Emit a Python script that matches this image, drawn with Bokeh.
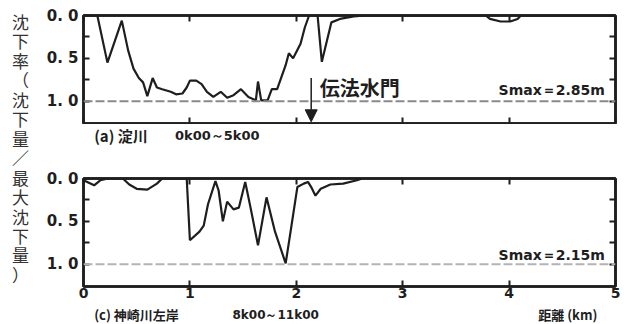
from bokeh.plotting import figure
from bokeh.layouts import row, column
from bokeh.models import Range1d, FixedTicker, LinearAxis, Span, Label, Arrow, NormalHead
from bokeh.core.properties import value
from bokeh.embed import file_html
from bokeh.resources import INLINE

# (a) 淀川 0k00～5k00 : distance (km) vs settlement ratio (settlement / max settlement)
yodo_km = [0.00, 0.13, 0.225, 0.36, 0.42, 0.47, 0.52, 0.56, 0.60, 0.65, 0.69, 0.74, 0.82,
           0.87, 0.93, 0.97, 1.00, 1.06, 1.11, 1.16, 1.22, 1.29, 1.35, 1.41, 1.48, 1.55,
           1.62, 1.64, 1.67, 1.73, 1.77, 1.82, 1.86, 1.90, 1.93, 1.97, 2.04, 2.08, 2.12,
           2.20, 2.24, 2.33, 2.41, 2.54, 2.65, 3.78, 3.82, 3.92, 4.01, 4.08, 4.11, 5.00]
yodo_ratio = [0.00, 0.00, 0.55, 0.06, 0.41, 0.62, 0.73, 0.78, 0.94, 0.73, 0.84, 0.86, 0.89,
              0.92, 0.91, 0.84, 0.76, 0.76, 0.80, 0.89, 0.95, 0.89, 0.96, 0.93, 0.86, 0.95,
              0.99, 0.77, 0.99, 0.99, 0.86, 0.86, 0.72, 0.58, 0.44, 0.50, 0.33, 0.14, 0.00,
              0.00, 0.54, 0.08, 0.04, 0.01, 0.00, 0.00, 0.04, 0.07, 0.07, 0.04, 0.00, 0.00]

# (c) 神崎川左岸 8k00～11k00
kanzaki_km = [0.00, 0.05, 0.10, 0.16, 0.23, 0.37, 0.43, 0.50, 0.60, 0.69, 0.74, 0.97, 1.00,
              1.09, 1.13, 1.17, 1.24, 1.27, 1.31, 1.35, 1.41, 1.46, 1.52, 1.57, 1.64, 1.72,
              1.80, 1.90, 1.94, 2.01, 2.07, 2.11, 2.14, 2.18, 2.23, 2.32, 2.44, 2.57, 2.62]
kanzaki_ratio = [0.02, 0.05, 0.08, 0.02, 0.00, 0.00, 0.07, 0.12, 0.13, 0.06, 0.00, 0.00, 0.72,
                 0.62, 0.55, 0.30, 0.03, 0.14, 0.50, 0.27, 0.36, 0.34, 0.04, 0.34, 0.78, 0.22,
                 0.62, 0.99, 0.67, 0.10, 0.06, 0.04, 0.10, 0.20, 0.12, 0.07, 0.06, 0.02, 0.00]

y_ticks = [0, 0.25, 0.5, 0.75, 1.0]
y_tick_text = {0: "0. 0", 0.25: "", 0.5: "0. 5", 0.75: "", 1: "1. 0"}
x_ticks = [0, 1, 2, 3, 4, 5]
ratio_ref = 1.0

ylabel_chars = list("沈下率（沈下量／最大沈下量）")

INK = "#1e1e1e"
JP = "Noto Sans CJK JP"
NUM = "DejaVu Sans"
PANEL_W = 589
LEFT, RIGHT = 43, 14


def style_axis(ax, labelled, size="15px"):
    ax.major_tick_in = 6
    ax.major_tick_out = 0
    ax.minor_tick_line_color = None
    ax.major_tick_line_width = 2
    ax.major_tick_line_color = INK
    ax.axis_line_color = INK
    ax.axis_line_width = 2.5
    ax.major_label_text_font = NUM
    ax.major_label_text_font_style = "bold"
    ax.major_label_text_color = INK
    ax.major_label_text_font_size = size
    if not labelled:
        ax.major_label_overrides = {t: "" for t in ax.ticker.ticks}
        ax.major_label_standoff = 0


def panel(km, ratio, height, top, bottom, show_x_labels, smax_text, smax_y, span_color):
    p = figure(width=PANEL_W, height=height, x_range=Range1d(0, 5), y_range=Range1d(1.26, 0),
               output_backend="svg", toolbar_location=None, x_axis_location=None,
               y_axis_location=None, min_border_left=LEFT, min_border_right=RIGHT,
               min_border_top=top, min_border_bottom=bottom)
    p.grid.visible = False
    p.outline_line_color = INK
    p.outline_line_width = 2.5

    left = LinearAxis(ticker=FixedTicker(ticks=y_ticks))
    style_axis(left, True)
    left.major_label_overrides = y_tick_text
    left.major_label_standoff = 5
    p.add_layout(left, "left")

    right = LinearAxis(ticker=FixedTicker(ticks=y_ticks))
    style_axis(right, False)
    p.add_layout(right, "right")

    below = LinearAxis(ticker=FixedTicker(ticks=x_ticks))
    style_axis(below, show_x_labels, "14px")
    if show_x_labels:
        below.major_label_standoff = 1
    p.add_layout(below, "below")

    above = LinearAxis(ticker=FixedTicker(ticks=x_ticks))
    style_axis(above, False)
    p.add_layout(above, "above")

    p.add_layout(Span(location=ratio_ref, dimension="width", line_color=span_color,
                      line_width=2, line_dash="9 3"))
    p.line(km, ratio, line_color=INK, line_width=2.2)

    p.add_layout(Label(x=4.90, y=smax_y, text=smax_text, text_align="right",
                       text_baseline="middle", text_font=NUM, text_font_style="bold",
                       text_font_size="14px", text_color=INK))
    return p


def caption(height, items):
    c = figure(width=PANEL_W, height=height, x_range=Range1d(0, 5),
               y_range=Range1d(height, 0), output_backend="svg", toolbar_location=None,
               min_border_left=LEFT, min_border_right=RIGHT, min_border_top=0,
               min_border_bottom=0)
    c.axis.visible = False
    c.grid.visible = False
    c.outline_line_color = None
    for x, y, text, font, size, align in items:
        c.text(x=[x], y=[y], text=[text], text_align=align, text_baseline="middle",
               text_font=value(font), text_font_style="bold", text_font_size=size,
               text_color=INK)
    return c


top = panel(yodo_km, yodo_ratio, 124, 15, 1, False, "Smax＝2.85m", 0.87, "#8a8a8a")
bottom = panel(kanzaki_km, kanzaki_ratio, 144, 18, 18, True, "Smax＝2.15m", 0.895, "#b4b4b4")

# 伝法水門 marker
gate_km = 2.14
top.add_layout(Arrow(end=NormalHead(size=12, fill_color=INK, line_color=INK),
                     x_start=gate_km, y_start=0.73, x_end=gate_km, y_end=1.24,
                     line_color=INK, line_width=1.5))
top.add_layout(Label(x=gate_km + 0.08, y=0.84, text="伝法水門", text_align="left",
                     text_baseline="middle", text_font=JP, text_font_style="bold",
                     text_font_size="20px", text_color=INK))

cap_a = caption(36, [(0.10, 11, "(a) 淀川", JP, "15px", "left"),
                     (0.86, 11, "0k00～5k00", NUM, "13px", "left")])
cap_c = caption(20, [(0.10, 10, "(c) 神崎川左岸", JP, "13px", "left"),
                     (1.40, 10, "8k00～11k00", NUM, "12px", "left"),
                     (4.83, 10, "距離 (km)", JP, "13px", "right")])

# vertical axis title, one upright character per line
lab = figure(width=40, height=324, x_range=Range1d(0, 40), y_range=Range1d(324, 0),
             output_backend="svg", toolbar_location=None, min_border=0)
lab.axis.visible = False
lab.grid.visible = False
lab.outline_line_color = None
pitch = 19.45
lab.text(x=[20] * len(ylabel_chars), y=[21 + i * pitch for i in range(len(ylabel_chars))],
         text=ylabel_chars, text_align="center", text_baseline="middle",
         text_font=value(JP), text_font_size="17px", text_color="#333333")

layout = row(lab, column(top, cap_a, bottom, cap_c, spacing=0), spacing=0)

open("out.html", "w").write(file_html(layout, INLINE))
